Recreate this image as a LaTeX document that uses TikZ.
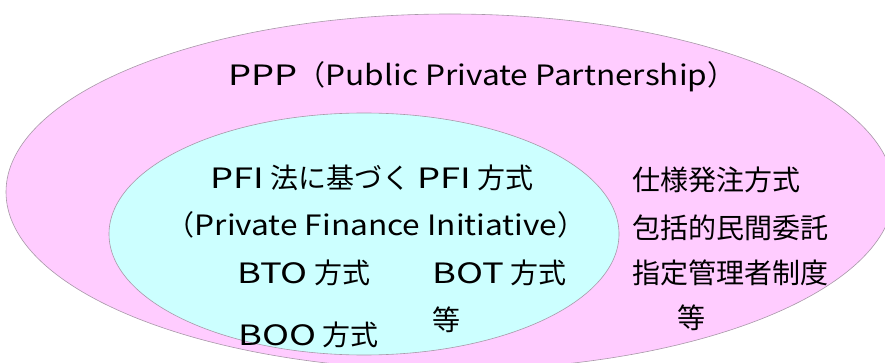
\documentclass[tikz,border=0pt]{standalone}
\usepackage{fontspec}
\setmainfont{Noto Sans CJK JP}
\newfontfamily\latn[FakeStretch=1.13]{Noto Sans CJK JP}
\newfontfamily\latw[FakeStretch=1.3]{Noto Sans CJK JP}
\definecolor{pinkfill}{HTML}{FFCCFF}
\definecolor{cyanfill}{HTML}{CCFFFF}
\definecolor{edgecol}{HTML}{A898A8}
\begin{document}
\begin{tikzpicture}[x=1pt,y=-1pt,
  lbl/.style={font=\fontsize{28}{32}\selectfont, inner sep=0pt, text=black},
  lblL/.style={lbl, anchor=west}]
\useasboundingbox (0,0) rectangle (885,363);
\clip (0,0) rectangle (885,363);
\fill[white] (0,0) rectangle (885,363);
\draw[fill=pinkfill, draw=edgecol, line width=0.6pt] (450,192) ellipse [x radius=444, y radius=178];
\draw[fill=cyanfill, draw=edgecol, line width=0.6pt] (364,234) ellipse [x radius=255, y radius=121];
\node[lbl] (ppp) at (482,77) {{\latw PPP}（{\latn Public Private Partnership}）};
\node[lbl] (pfi) at (372,178) {{\latw PFI} 法に基づく {\latw PFI} 方式};
\node[lbl] (pfien) at (376,225) {（{\latn Private Finance Initiative}）};
\node[lblL] (bto) at (237,273) {{\latw BTO} 方式};
\node[lblL] (bot) at (432,273) {{\latw BOT} 方式};
\node[lblL] (etc1) at (432,320) {等};
\node[lblL] (boo) at (238,335) {{\latw BOO} 方式};
\node[lblL] (r1) at (632,180) {仕様発注方式};
\node[lblL] (r2) at (632,228) {包括的民間委託};
\node[lblL] (r3) at (632,273) {指定管理者制度};
\node[lblL] (etc2) at (677,318) {等};
\end{tikzpicture}
\end{document}
